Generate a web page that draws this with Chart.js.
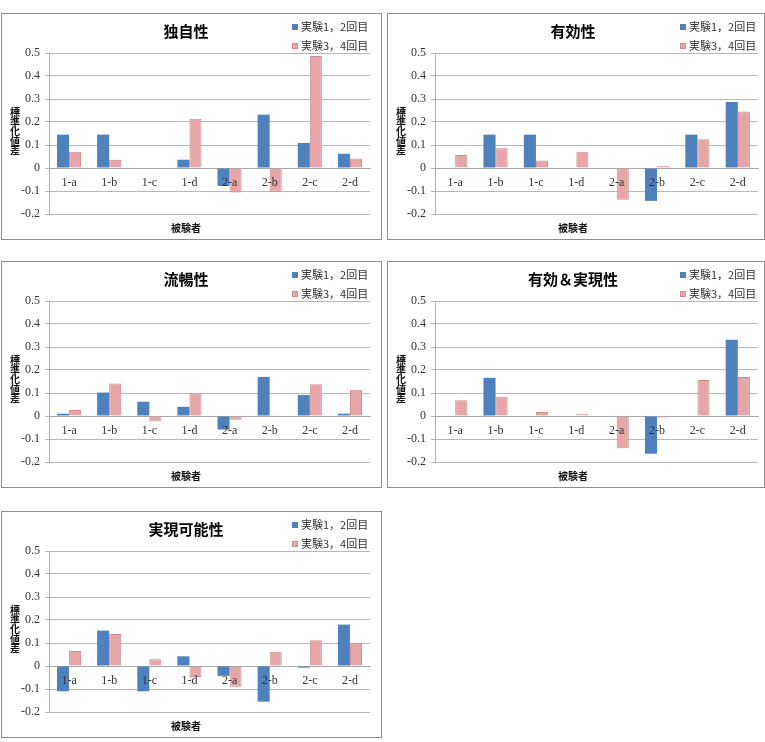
<!DOCTYPE html>
<html lang="ja">
<head>
<meta charset="utf-8">
<title>標準化値差</title>
<script src="https://cdn.jsdelivr.net/npm/chart.js@4.4.0/dist/chart.umd.min.js"></script>
<style>
  html, body { margin: 0; padding: 0; background: #fff; }
  body { position: relative; width: 765px; height: 742px; overflow: hidden; }
  .panel { position: absolute; border: 1px solid #8f8f8f; background: #fff; }
  .panel canvas { display: block; }
</style>
</head>
<body>
<div class="panel" style="left:1px;top:13px;width:379px;height:225px"><canvas id="c1" width="379" height="225"></canvas></div>
<div class="panel" style="left:387px;top:13px;width:376px;height:225px"><canvas id="c2" width="376" height="225"></canvas></div>
<div class="panel" style="left:1px;top:261px;width:379px;height:225px"><canvas id="c3" width="379" height="225"></canvas></div>
<div class="panel" style="left:387px;top:261px;width:376px;height:225px"><canvas id="c4" width="376" height="225"></canvas></div>
<div class="panel" style="left:1px;top:511px;width:379px;height:225px"><canvas id="c5" width="379" height="225"></canvas></div>
<script>
// ===== データ =====
const subjects = ['1-a', '1-b', '1-c', '1-d', '2-a', '2-b', '2-c', '2-d'];
const seriesNames = ['実験1，2回目', '実験3，4回目'];
const yTicks = [-0.2, -0.1, 0, 0.1, 0.2, 0.3, 0.4, 0.5];
const xTitle = '被験者';
const yTitle = '標準化値差';

// 独自性
const dokujiExp12 = [0.145, 0.145, 0, 0.036, -0.078, 0.232, 0.109, 0.062];
const dokujiExp34 = [0.071, 0.036, 0.002, 0.214, -0.106, -0.103, 0.487, 0.041];
// 有効性
const yukoExp12 = [0, 0.145, 0.145, 0, 0, -0.143, 0.145, 0.287];
const yukoExp34 = [0.057, 0.086, 0.033, 0.071, -0.138, 0.010, 0.125, 0.246];
// 流暢性
const ryuchoExp12 = [0.010, 0.102, 0.062, 0.040, -0.059, 0.170, 0.091, 0.010];
const ryuchoExp34 = [0.026, 0.141, -0.024, 0.099, -0.016, 0.003, 0.138, 0.114];
// 有効＆実現性
const yukoJitsuExp12 = [0, 0.166, 0, 0, 0, -0.164, 0, 0.331];
const yukoJitsuExp34 = [0.068, 0.085, 0.017, 0.010, -0.140, -0.007, 0.156, 0.170];
// 実現可能性
const jitsugenExp12 = [-0.110, 0.154, -0.110, 0.042, -0.043, -0.155, -0.007, 0.180];
const jitsugenExp34 = [0.065, 0.139, 0.029, -0.048, -0.090, 0.062, 0.112, 0.101];

const jpFont = '"Noto Sans CJK JP", "Noto Sans", sans-serif';
const numFont = '"Liberation Serif", "DejaVu Serif", serif';

// ===== 凡例（右上）と縦書きの軸ラベル =====
const panelExtras = {
    id: 'panelExtras',
    afterDraw(chart) {
        const { ctx, chartArea } = chart;
        ctx.save();
        ctx.setTransform(1, 0, 0, 1, 0, 0);
        ctx.textBaseline = 'middle';
        ctx.font = '11px ' + jpFont;
        chart.data.datasets.forEach((ds, i) => {
            const x = chartArea.right - 78;
            const y = 13 + i * 19;
            ctx.fillStyle = ds.backgroundColor;
            ctx.fillRect(x, y - 3, 6, 6);
            if (ds.borderWidth) {
                ctx.strokeStyle = ds.borderColor;
                ctx.lineWidth = 1;
                ctx.strokeRect(x + 0.5, y - 2.5, 5, 5);
            }
            ctx.fillStyle = '#333';
            ctx.textAlign = 'left';
            ctx.fillText(ds.label, x + 9, y);
        });

        // 縦書き：一文字ずつ下へ
        ctx.font = 'bold 10px ' + jpFont;
        ctx.textAlign = 'center';
        ctx.fillStyle = '#111';
        const chars = Array.from(yTitle);
        const step = 9.6;
        const mid = (chartArea.top + chartArea.bottom) / 2 - 2;
        chars.forEach((ch, i) => {
            ctx.fillText(ch, 13, mid + (i - (chars.length - 1) / 2) * step);
        });
        ctx.restore();
    }
};

function makeChart(id, title, exp12, exp34, padRight) {
    const ctx = document.getElementById(id);
    new Chart(ctx, {
        type: 'bar',
        data: {
            labels: subjects,
            datasets: [{
                label: seriesNames[0],
                data: exp12,
                backgroundColor: '#4F81BD',
                borderWidth: 0
            }, {
                label: seriesNames[1],
                data: exp34,
                backgroundColor: '#E6A5A7',
                borderColor: '#D08C8F',
                borderWidth: 1
            }]
        },
        options: {
            responsive: false,
            animation: false,
            categoryPercentage: 0.6,
            barPercentage: 1.0,
            layout: { padding: { left: 0, right: padRight, top: 0, bottom: 0 } },
            plugins: {
                legend: { display: false },
                tooltip: { enabled: false },
                title: {
                    display: true,
                    text: title,
                    color: '#000',
                    font: { family: jpFont, size: 15, weight: 'bold', lineHeight: 1.2 },
                    padding: { top: 8, bottom: 13 }
                },
                subtitle: {
                    display: true,
                    position: 'bottom',
                    text: xTitle,
                    color: '#111',
                    font: { family: jpFont, size: 10, weight: 'bold', lineHeight: 1.2 },
                    padding: { top: 8, bottom: 5 }
                }
            },
            scales: {
                x: {
                    position: { y: 0 },
                    grid: { display: false, drawTicks: false },
                    border: { display: true, color: '#a8a8a8' },
                    ticks: {
                        z: 1,
                        color: '#333',
                        font: { family: numFont, size: 12, lineHeight: 1.2 },
                        padding: 8,
                        maxRotation: 0,
                        autoSkip: false
                    },
                    afterFit: (scale) => { scale.height = 0; }
                },
                y: {
                    min: yTicks[0],
                    max: yTicks[yTicks.length - 1],
                    afterBuildTicks: (scale) => {
                        scale.ticks = yTicks.map(v => ({ value: v }));
                    },
                    ticks: {
                        color: '#333',
                        font: { family: numFont, size: 12 },
                        padding: 5,
                        callback: (v) => Math.abs(v) < 1e-9 ? '0' : Number(v).toFixed(1)
                    },
                    grid: { color: '#b8b8b8', tickLength: 4 },
                    border: { color: '#b0b0b0' },
                    afterFit: (scale) => { scale.width = 47; }
                }
            }
        },
        plugins: [panelExtras]
    });
}

document.addEventListener('DOMContentLoaded', () => {
    makeChart('c1', '独自性', dokujiExp12, dokujiExp34, 11);
    makeChart('c2', '有効性', yukoExp12, yukoExp34, 6);
    makeChart('c3', '流暢性', ryuchoExp12, ryuchoExp34, 11);
    makeChart('c4', '有効＆実現性', yukoJitsuExp12, yukoJitsuExp34, 6);
    makeChart('c5', '実現可能性', jitsugenExp12, jitsugenExp34, 11);
});
</script>
</body>
</html>
